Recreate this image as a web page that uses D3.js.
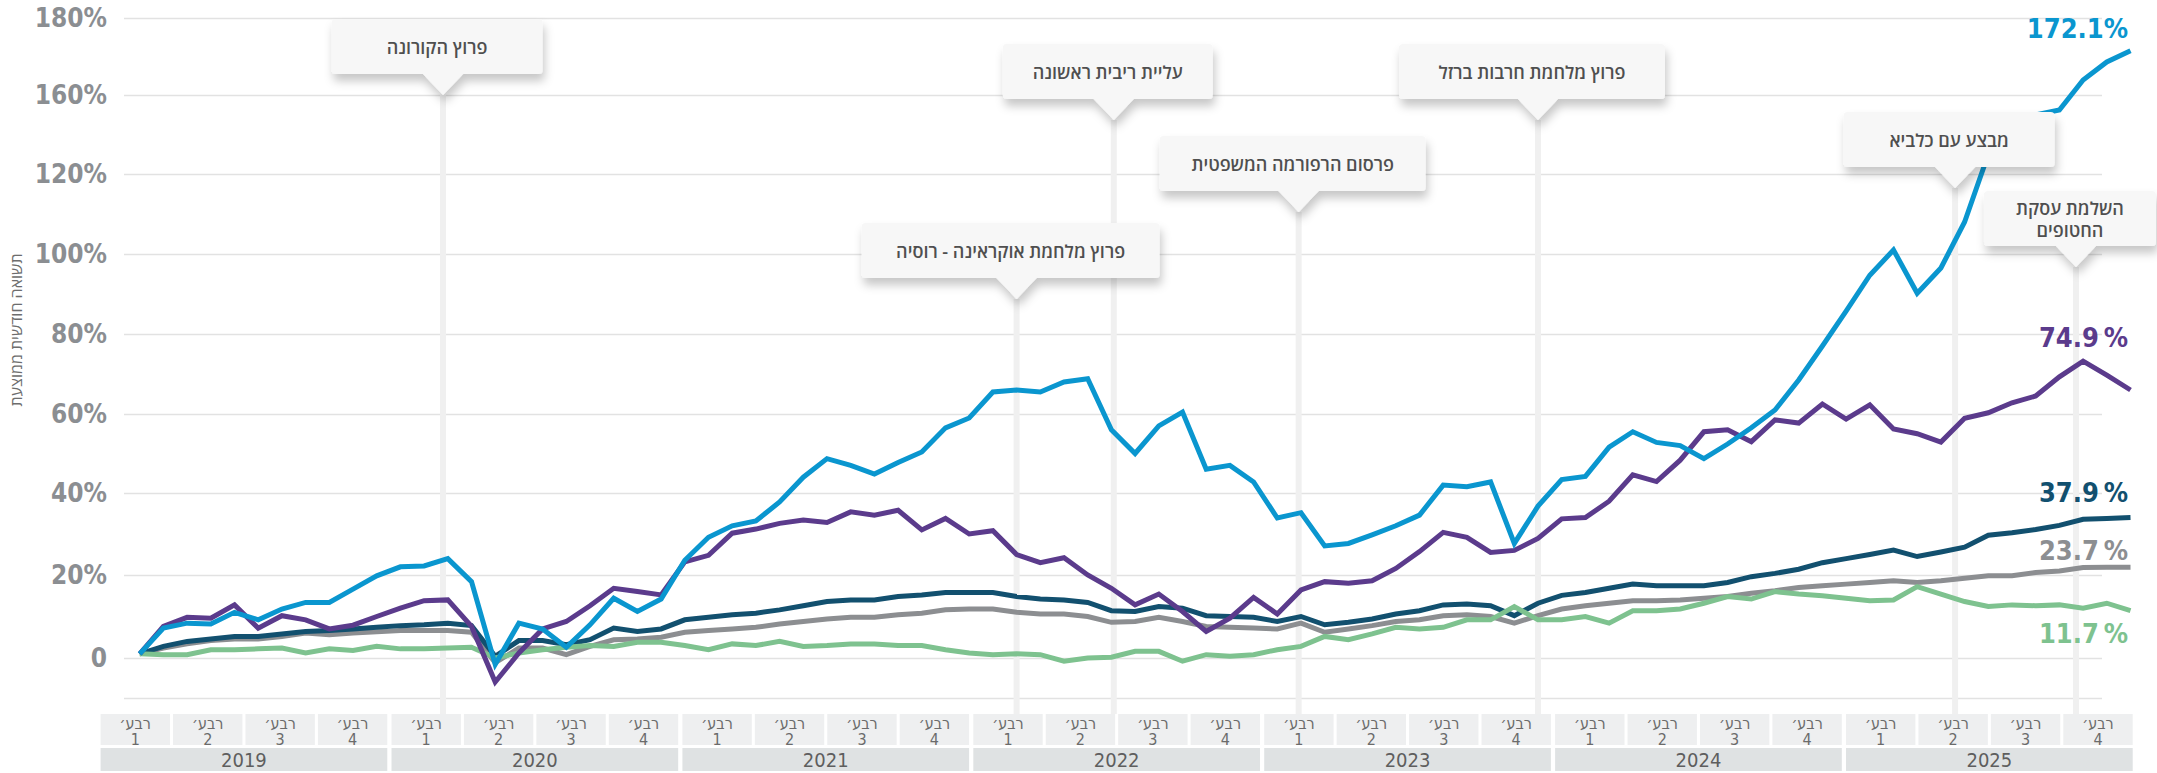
<!DOCTYPE html>
<html>
<head>
<meta charset="UTF-8">
<style>
  body { margin: 0; background: #fff; }
  svg { display: block; }
  .num { font-family: "Liberation Sans Narrow", "DejaVu Sans Condensed", sans-serif; font-weight: bold; }
  .narrow { font-family: "Liberation Sans Narrow", "DejaVu Sans Condensed", sans-serif; }
  .heb { font-family: "Open Sans", "DejaVu Sans", sans-serif; }
</style>
</head>
<body>
<svg id="chart"></svg>

<script src="https://d3js.org/d3.v7.min.js"></script>
<script>
const width = 2157, height = 773;

// ---- data (cumulative return, %, one point per month)
const years = [2019, 2020, 2021, 2022, 2023, 2024, 2025];
const quarters = [1, 2, 3, 4];
const yTicks = [-10, 0, 20, 40, 60, 80, 100, 120, 160, 180];

const blueSeries = [1, 7.2, 8.4, 8.2, 11, 9.2, 11.8, 13.4, 13.4, 16.6, 19.8, 22, 22.2, 24, 18.4, -1.6, 8.4, 7, 2.6, 8,
  14.4, 11.2, 14.2, 23.6, 29.2, 32, 33.2, 37.8, 44, 48.7, 47, 44.8, 47.7, 50.4, 56.5, 59, 65.5, 66, 65.5, 68,
  68.8, 56, 50, 57, 60.5, 46, 47, 42.8, 33.9, 35.2, 27.1, 27.7, 29.8, 32, 34.6, 42, 41.6, 42.8, 27.7, 36.8,
  43.4, 44.2, 51.6, 55.5, 52.8, 52, 48.7, 52.4, 56.5, 61, 68.5, 77, 85.7, 94.7, 101, 90.2, 96.5, 108, 130, 143,
  150, 152.4, 163.9, 168.6, 171.5];
const purpleSeries = [1, 7.6, 9.8, 9.6, 12.8, 7.2, 10.2, 9.2, 7, 7.9, 10, 12, 13.8, 14, 7.6, -6, 1.2, 7, 8.8, 12.6,
  16.8, 16, 15.2, 23.2, 24.8, 30.2, 31.2, 32.6, 33.4, 32.8, 35.4, 34.6, 35.8, 31, 33.8, 30, 30.8, 25, 23, 24.2,
  20, 16.8, 12.8, 15.4, 11.2, 6.4, 9.6, 14.6, 10.6, 16.4, 18.4, 18, 18.6, 21.6, 25.7, 30.4, 29.2, 25.5, 26, 28.9,
  33.7, 34, 38, 44.6, 42.9, 48.3, 55.5, 56, 53, 58.5, 57.7, 62.5, 58.7, 62.3, 56.2, 55, 52.9, 58.9, 60.3, 62.8,
  64.5, 69.3, 73.2, 69.7, 66];
const tealSeries = [1, 2.8, 4, 4.6, 5.2, 5.2, 5.8, 6.4, 6.6, 7, 7.4, 7.8, 8, 8.4, 7.8, 0.4, 4.2, 4.2, 3.2, 4.4,
  7.2, 6.4, 7, 9.2, 9.8, 10.4, 10.8, 11.6, 12.6, 13.6, 14, 14, 14.8, 15.2, 15.8, 15.8, 15.8, 14.8, 14.2, 14,
  13.4, 11.4, 11.2, 12.4, 12, 10.2, 10, 9.8, 8.8, 10, 8, 8.6, 9.4, 10.6, 11.4, 12.8, 13, 12.6, 10.2, 13.2,
  15.1, 15.8, 16.8, 17.8, 17.4, 17.4, 17.4, 18.2, 19.6, 20.4, 21.4, 23, 24, 25, 26.1, 24.5, 25.6, 26.8, 29.7, 30.3,
  31.1, 32.1, 33.6, 33.8, 34];
const graySeries = [1, 2.4, 3.4, 4.2, 4.6, 4.6, 5.2, 6, 5.6, 6, 6.3, 6.6, 6.6, 6.6, 6.2, -1.2, 2.4, 2.4, 0.8, 2.8,
  4.4, 4.6, 5, 6.2, 6.6, 7, 7.4, 8.2, 8.8, 9.4, 9.8, 9.8, 10.4, 10.8, 11.6, 11.8, 11.8, 11, 10.6, 10.6,
  10, 8.6, 8.8, 9.8, 8.8, 7.6, 7.4, 7.2, 7, 8.4, 6.2, 7, 7.8, 8.8, 9.2, 10.2, 10.4, 10, 8.4, 10.2,
  11.8, 12.6, 13.2, 13.8, 13.8, 14, 14.4, 14.8, 15.6, 16.2, 17, 17.4, 17.8, 18.2, 18.6, 18.2, 18.6, 19.2, 19.8, 19.8,
  20.6, 21, 21.8, 21.9, 21.9];
const greenSeries = [1, 0.8, 0.8, 2, 2, 2.2, 2.4, 1.2, 2.2, 1.8, 2.8, 2.2, 2.2, 2.4, 2.6, 0, 1.2, 2, 2.6, 3,
  2.8, 3.8, 3.8, 3, 2, 3.4, 3, 4, 2.8, 3, 3.4, 3.4, 3, 3, 2, 1.2, 0.8, 1, 0.8, -0.8,
  0, 0.2, 1.6, 1.6, -0.8, 0.8, 0.4, 0.8, 2, 2.8, 5.2, 4.4, 5.8, 7.4, 7, 7.4, 9.2, 9.2, 12.4, 9.2,
  9.2, 10, 8.4, 11.4, 11.4, 11.8, 13.2, 14.8, 14.2, 16, 15.4, 15, 14.4, 13.8, 14, 17.2, 15.4, 13.6, 12.4, 12.8,
  12.6, 12.8, 12, 13.2, 11.4];

const endLabels = ["172.1%", "74.9\u2009%", "37.9\u2009%", "23.7\u2009%", "11.7\u2009%"];
const endLabelLevels = [174.8, 76.8, 37.8, 23.7, 3.6];

const eventNames = [["פרוץ הקורונה"], ["פרוץ מלחמת אוקראינה - רוסיה"], ["עליית ריבית ראשונה"],
  ["פרסום הרפורמה המשפטית"], ["פרוץ מלחמת חרבות ברזל"], ["מבצע עם כלביא"], ["השלמת עסקת", "החטופים"]];
const eventMonths = [12.8, 37.0, 41.1, 48.9, 59.0, 76.6, 81.7];

const yTitle = "תשואה חודשית ממוצעת";
const quarterWord = "רבע׳";

// ---- layout
const colors = ["#0a96cf", "#5b3b8c", "#12506f", "#8c8e91", "#7ec28f"];
const calloutTop = [19, 223, 44, 136, 44, 112, 191];
const calloutWidth = [211, 298, 210, 266, 266, 211, 172];
const boxH = 55, pointerH = 21;

const svg = d3.select("#chart").attr("width", width).attr("height", height);

const defs = svg.append("defs");
defs.append("filter").attr("id", "shadow").attr("x", "-20%").attr("y", "-30%").attr("width", "140%").attr("height", "180%")
  .append("feDropShadow").attr("dx", 2).attr("dy", 7).attr("stdDeviation", 5)
  .attr("flood-color", "#000").attr("flood-opacity", 0.22);

const x = d3.scaleLinear().domain([0, blueSeries.length - 1]).range([139.7, 2130.5]);
const y = d3.scaleLinear()
  .domain([-10, 0, 20, 40, 60, 80, 100, 120, 160, 180])
  .range([698, 658, 575, 493, 414, 334, 254, 174, 95, 18]);

// y title
svg.append("text").attr("class", "heb")
  .attr("transform", "translate(22,330) rotate(-90)")
  .attr("text-anchor", "middle")
  .attr("font-size", 16).attr("fill", "#6d6d6d")
  .text(yTitle);

// grid + y labels
const yAxis = d3.axisLeft(y).tickValues(yTicks)
  .tickSizeInner(-(2102 - 124)).tickSizeOuter(0).tickPadding(17)
  .tickFormat(d => d < 0 ? "" : d === 0 ? "0" : d + "%");
const gy = svg.append("g").attr("transform", "translate(124,0)").call(yAxis);
gy.select(".domain").remove();
gy.selectAll(".tick line").attr("stroke", "#e2e2e2").attr("stroke-width", 1.5);
gy.selectAll(".tick text").attr("class", "num").attr("font-size", 26).attr("fill", "#8b8e92");

// event lines
svg.append("g").selectAll("line").data(eventMonths).join("line")
  .attr("x1", d => x(d)).attr("x2", d => x(d))
  .attr("y1", (d, i) => calloutTop[i] + boxH + pointerH).attr("y2", 714)
  .attr("stroke", "#f0f0f0").attr("stroke-width", 6);

// x axis boxes
const yearBand = d3.scaleBand().domain(years).range([100.6, 2132.7]).paddingInner(0.0145);
const qBand = d3.scaleBand().domain(quarters).range([0, yearBand.bandwidth()]).paddingInner(0.042);
const gx = svg.append("g");
const yg = gx.selectAll("g.year").data(years).join("g").attr("class", "year")
  .attr("transform", d => `translate(${yearBand(d)},0)`);
yg.append("rect").attr("y", 748).attr("width", yearBand.bandwidth()).attr("height", 23).attr("fill", "#dfe2e3");
yg.append("text").attr("class", "narrow").attr("x", yearBand.bandwidth() / 2).attr("y", 767)
  .attr("text-anchor", "middle").attr("font-size", 20).attr("fill", "#5e5e5e").text(d => d);
const qg = yg.selectAll("g.q").data(quarters).join("g").attr("class", "q")
  .attr("transform", d => `translate(${qBand(d)},0)`);
qg.append("rect").attr("y", 714).attr("width", qBand.bandwidth()).attr("height", 31).attr("fill", "#eeeff0");
qg.append("text").attr("class", "narrow").attr("x", qBand.bandwidth() / 2).attr("y", 729)
  .attr("text-anchor", "middle").attr("font-size", 16).attr("fill", "#6b6b6b").text(quarterWord);
qg.append("text").attr("class", "narrow").attr("x", qBand.bandwidth() / 2).attr("y", 745)
  .attr("text-anchor", "middle").attr("font-size", 16).attr("fill", "#6b6b6b").text(d => d);

// lines
const seriesList = [graySeries, tealSeries, greenSeries, purpleSeries, blueSeries];
const seriesColors = [colors[3], colors[2], colors[4], colors[1], colors[0]];
const line = d3.line().x((d, i) => x(i)).y(d => y(d));
svg.append("g").selectAll("path").data(seriesList).join("path")
  .attr("d", line)
  .attr("fill", "none")
  .attr("stroke", (d, i) => seriesColors[i])
  .attr("stroke-width", 5);

// end labels
svg.append("g").selectAll("text").data(endLabels).join("text")
  .attr("class", "num")
  .attr("x", 2128).attr("y", (d, i) => y(endLabelLevels[i]))
  .attr("text-anchor", "end").attr("font-size", 27)
  .attr("fill", (d, i) => colors[i])
  .text(d => d);

// callouts
const cg = svg.append("g").selectAll("g").data(eventNames).join("g");
cg.each(function (lines, i) {
  const g = d3.select(this);
  const tipX = x(eventMonths[i]);
  const cx = tipX - 6;
  const top = calloutTop[i];
  const w = calloutWidth[i];
  const shape = g.append("g").attr("filter", "url(#shadow)");
  shape.append("rect").attr("x", cx - w / 2).attr("y", top).attr("width", w).attr("height", boxH)
    .attr("rx", 4).attr("fill", "#f7f7f7");
  shape.append("path")
    .attr("d", `M${tipX - 21},${top + boxH - 1} L${tipX + 21},${top + boxH - 1} L${tipX},${top + boxH + pointerH} Z`)
    .attr("fill", "#f7f7f7");
  const t = g.append("text").attr("class", "heb")
    .attr("x", cx).attr("text-anchor", "middle")
    .attr("font-size", 18).attr("font-weight", 600).attr("fill", "#4f4f4f");
  const y0 = top + boxH / 2 + 7 - (lines.length - 1) * 11;
  lines.forEach((s, k) => {
    t.append("tspan").attr("x", cx).attr("y", y0 + k * 22).text(s);
  });
});
</script>
</body>
</html>
